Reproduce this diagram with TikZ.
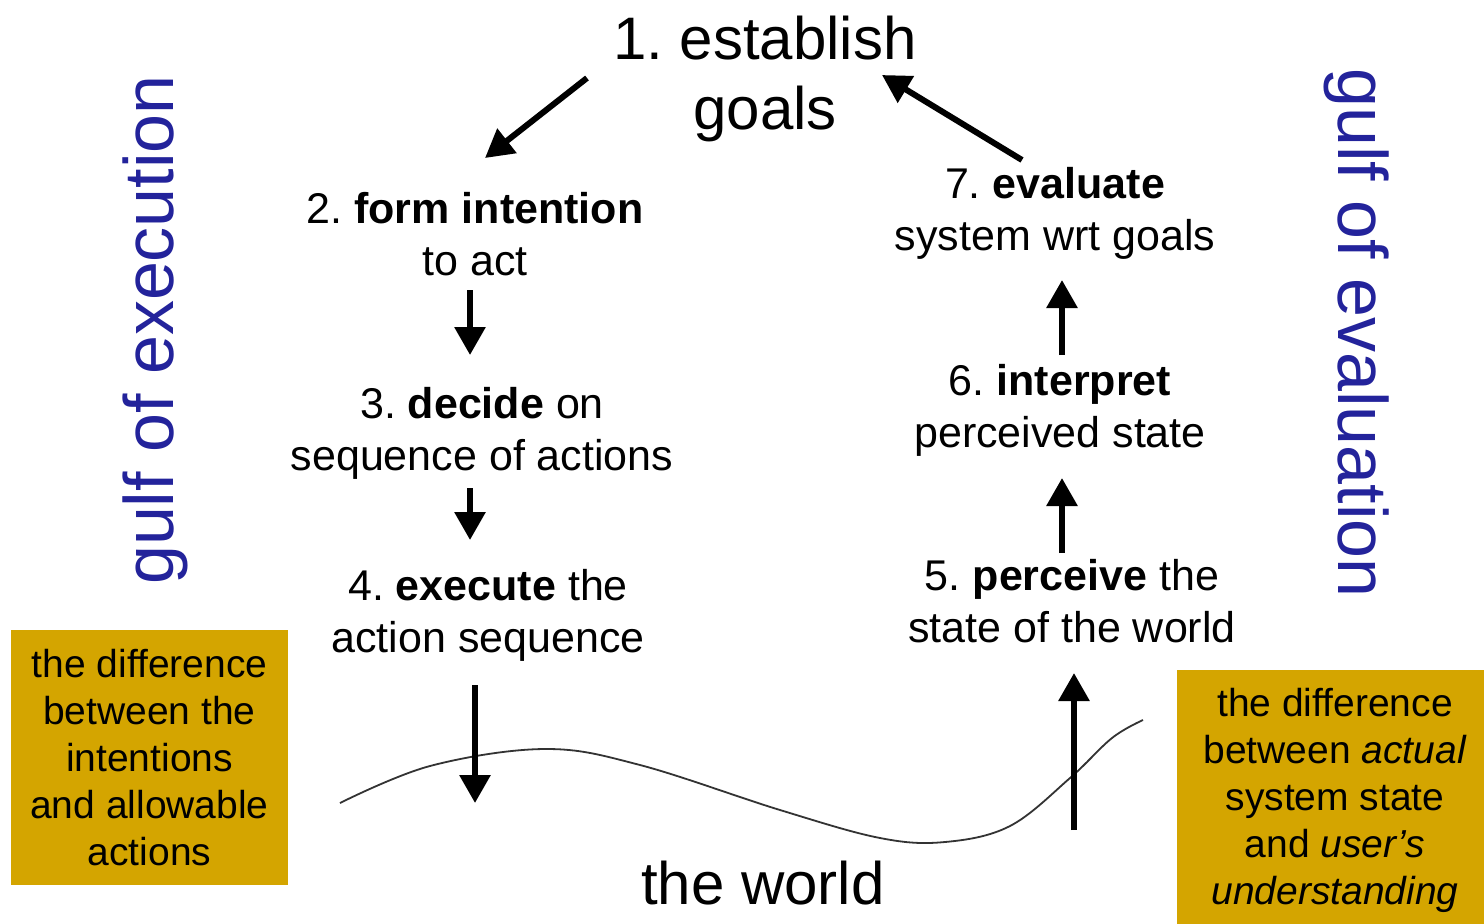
\documentclass[tikz,border=0pt]{standalone}
\usepackage{fontspec}
\setmainfont{Liberation Sans}
\usetikzlibrary{arrows.meta}
\definecolor{gold}{RGB}{212,165,0}
\definecolor{gulfblue}{RGB}{35,35,155}
\frenchspacing
\begin{document}
\begin{tikzpicture}[x=0.5pt,y=-0.5pt,
  stepnode/.style={align=center, inner sep=0pt, font=\fontsize{21.5}{26}\selectfont},
  bignode/.style={align=center, inner sep=0pt, font=\fontsize{30}{35}\selectfont},
  gulf/.style={inner sep=0pt, text=gulfblue, font=\fontsize{35}{40}\selectfont},
  gbox/.style={fill=gold, align=center, inner sep=0pt, font=\fontsize{19.5}{23.5}\selectfont},
  boxtext/.style={align=center, inner sep=0pt, font=\fontsize{19.5}{23.5}\selectfont},
  arr/.style={line width=3pt, -{Triangle[length=14pt,width=15pt]}},
  wave/.style={line width=0.9pt, draw=black!80}]
\useasboundingbox (0,0) rectangle (1484,923);
\clip (0,0) rectangle (1484,923);
\fill[white] (0,0) rectangle (1484,923);

% boxes
\node[gbox, minimum width=138.5pt, minimum height=127.5pt] (box1) at (149.5,757.5)
  {the difference\\between the\\intentions\\and allowable\\actions};
\node[gbox, minimum width=160pt, minimum height=135pt] (box2) at (1337,805) {};
\node[boxtext] (box2text) at (1335,800)
  {the difference\\between \textit{actual}\\system state\\and \textit{user’s}\\\textit{understanding}};

% steps
\node[bignode] (n1) at (765,79) {1. establish\\goals};
\node[stepnode] (n2) at (475,234) {2. \textbf{form intention}\\to act};
\node[stepnode] (n3) at (482,433) {3. \textbf{decide} on\\sequence of actions};
\node[stepnode] (n4) at (488,615) {4. \textbf{execute} the\\action sequence};
\node[stepnode] (n5) at (1072,601) {5. \textbf{perceive} the\\state of the world};
\node[stepnode] (n6) at (1060,410) {6. \textbf{interpret}\\perceived state};
\node[stepnode] (n7) at (1055,213) {7. \textbf{evaluate}\\system wrt goals};
\node[bignode] (world) at (763,883) {the world};

% gulfs
\node[gulf, rotate=90] (gexec) at (155,330) {gulf of execution};
\node[gulf, rotate=-90] (geval) at (1357,333) {gulf of evaluation};

% the world surface
\draw[wave] plot[smooth, tension=0.6] coordinates {(340,803) (430,766) (545,749) (640,765) (780,810) (880,838) (945,842) (1010,826) (1070,778) (1112,738) (1143,720)};

% connector end points
\coordinate (a12s) at (587,78);   \coordinate (a12e) at (485,158);
\coordinate (a23s) at (470,290);  \coordinate (a23e) at (470,355);
\coordinate (a34s) at (470,488);  \coordinate (a34e) at (470,540);
\coordinate (a4ws) at (475,685);  \coordinate (a4we) at (475,803);
\coordinate (aw5s) at (1074,830); \coordinate (aw5e) at (1074,673);
\coordinate (a56s) at (1062,553); \coordinate (a56e) at (1062,478);
\coordinate (a67s) at (1062,355); \coordinate (a67e) at (1062,280);
\coordinate (a71s) at (1022,160); \coordinate (a71e) at (882,75);

\draw[arr] (a12s) -- (a12e);
\draw[arr] (a23s) -- (a23e);
\draw[arr] (a34s) -- (a34e);
\draw[arr] (a4ws) -- (a4we);
\draw[arr] (aw5s) -- (aw5e);
\draw[arr] (a56s) -- (a56e);
\draw[arr] (a67s) -- (a67e);
\draw[arr] (a71s) -- (a71e);
\end{tikzpicture}
\end{document}
